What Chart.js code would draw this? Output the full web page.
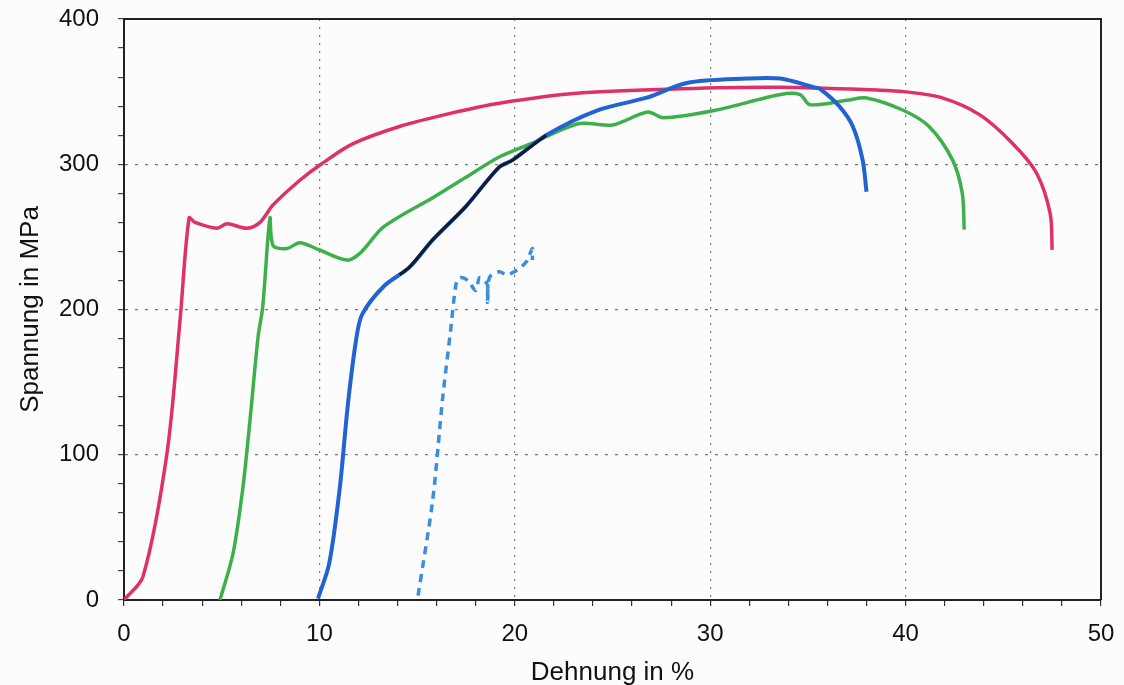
<!DOCTYPE html>
<html>
<head>
<meta charset="utf-8">
<script src="https://cdn.jsdelivr.net/npm/chart.js@4"></script>
<style>
  html, body { margin: 0; padding: 0; background: #fcfcfc; }
  #wrap { width: 1124px; height: 685px; }
</style>
</head>
<body>
<div id="wrap"><canvas id="chart" width="1124" height="685"></canvas></div>
<script>
// Spannung-Dehnung curves
const redStrain = [0, 0.97, 2.2, 2.87, 3.33, 3.63, 4.76, 5.27, 6.29, 6.96, 7.63, 9.0, 10.03, 11.7, 14.1, 16.7, 19.2, 23.3, 28.5, 33.6, 38.7, 39.9, 41.8, 43.8, 45.5, 46.7, 47.4, 47.5];
const redStress = [0, 16, 101, 193, 263, 260, 256, 259, 256, 260, 272, 289, 299.5, 314, 326, 335, 342, 349, 352, 353, 351, 350, 346, 334, 314, 294, 266, 241];

const greenStrain = [4.91, 5.58, 6.09, 6.45, 6.86, 7.1, 7.47, 7.63, 8.34, 9.0, 10.0, 11.4, 12.1, 13.3, 15.8, 17.5, 19.2, 20.8, 23.3, 25.0, 26.8, 27.6, 30.2, 33.6, 34.6, 35.1, 37.0, 38.0, 39.9, 41.2, 42.4, 42.9, 43.0];
const greenStress = [0, 32, 78, 124, 181, 202, 263, 244, 242, 246, 241, 234, 239, 257, 277, 291, 305, 314, 328, 327, 336, 332, 337, 348, 348, 341, 344, 345.6, 337, 326, 303, 280, 255];

const blueStrain = [9.93, 10.5, 11.05, 11.46, 11.9, 12.2, 13.3, 14.6, 15.8, 17.5, 19.2, 19.9, 21.6, 24.2, 26.8, 28.8, 31.9, 33.6, 35.3, 35.6, 36.6, 37.3, 37.8, 38.0];
const blueStress = [1, 25, 78, 135, 181, 197, 216, 229, 248, 271, 298, 303, 320, 337, 346, 356, 359, 359, 353, 352, 340, 326, 303, 281];

// black pen over part of the blue curve
const blackStrain = [14.1, 14.6, 15.8, 17.5, 19.2, 19.9, 21.6];
const blackStress = [224, 229, 248, 271, 298, 303, 320];

const dashStrain = [15.05, 15.8, 16.3, 16.7, 17.0, 17.2, 17.6, 18.0, 18.2, 18.6, 18.6, 18.7, 19.2, 19.6, 20.1, 20.6, 20.9, 20.9];
const dashStress = [3, 69, 138, 184, 218, 222, 220, 213, 222, 217, 205, 222, 226, 224, 227, 233, 242, 234];

const xTicks = [0, 10, 20, 30, 40, 50];
const yTicks = [0, 100, 200, 300, 400];

const pts = (xs, ys) => xs.map((x, i) => ({ x: x, y: ys[i] }));

const frame = {
  id: 'frame',
  afterDraw(chart) {
    const { ctx, chartArea: a } = chart;
    ctx.save();
    ctx.strokeStyle = '#222';
    ctx.lineWidth = 2;
    ctx.beginPath();
    ctx.moveTo(a.left, a.top);
    ctx.lineTo(a.right, a.top);
    ctx.lineTo(a.right, a.bottom);
    ctx.stroke();
    ctx.restore();
  }
};

const line = (data, color, width, extra) => Object.assign({
  data: data,
  borderColor: color,
  borderWidth: width,
  pointRadius: 0,
  tension: 0.3,
  fill: false
}, extra || {});

const tickFont = { family: 'Liberation Sans, Arial', size: 24 };
const titleFont = { family: 'Liberation Sans, Arial', size: 26 };

new Chart(document.getElementById('chart').getContext('2d'), {
  type: 'line',
  data: {
    datasets: [
      line(pts(redStrain, redStress), '#e0306c', 3.5, { order: 3 }),
      line(pts(greenStrain, greenStress), '#3db04b', 3.5, { order: 4 }),
      line(pts(blueStrain, blueStress), '#2163d3', 4, { order: 2 }),
      line(pts(blackStrain, blackStress), '#141a30', 3, { order: 1 }),
      line(pts(dashStrain, dashStress), '#3b8de0', 3.5, { borderDash: [8, 6], order: 5 })
    ]
  },
  plugins: [frame],
  options: {
    responsive: false,
    animation: false,
    layout: { padding: { top: 19, right: 23, left: 0, bottom: 0 } },
    plugins: { legend: { display: false }, tooltip: { enabled: false } },
    scales: {
      x: {
        type: 'linear',
        min: 0,
        max: 50,
        afterFit: s => { s.height = 85; s.paddingLeft = 0; s.paddingRight = 0; },
        ticks: {
          stepSize: 2,
          autoSkip: false,
          maxRotation: 0,
          padding: 14,
          color: '#111',
          font: tickFont,
          callback: v => xTicks.includes(v) ? String(v) : ''
        },
        grid: {
          color: c => c.tick && c.tick.value % 10 === 0 && c.tick.value > 0 && c.tick.value < 50 ? '#777' : 'rgba(0,0,0,0)',
          lineWidth: 1.2,
          tickColor: '#333',
          tickLength: 6
        },
        border: { color: '#222', width: 2, dash: [2, 6] },
        title: {
          display: true,
          text: 'Dehnung in %',
          color: '#111',
          font: titleFont,
          padding: { top: 0, bottom: -3 }
        }
      },
      y: {
        type: 'linear',
        min: 0,
        max: 400,
        afterFit: s => { s.width = 124; s.paddingTop = 0; s.paddingBottom = 0; },
        ticks: {
          stepSize: 20,
          autoSkip: false,
          padding: 19,
          color: '#111',
          font: tickFont,
          callback: v => yTicks.includes(v) ? String(v) : ''
        },
        grid: {
          color: c => c.tick && c.tick.value % 100 === 0 && c.tick.value > 0 && c.tick.value < 400 ? '#777' : 'rgba(0,0,0,0)',
          lineWidth: 1.2,
          tickColor: '#444',
          tickLength: 6
        },
        border: { color: '#222', width: 2, dash: [3, 7] },
        title: {
          display: true,
          text: 'Spannung in MPa',
          color: '#111',
          font: titleFont,
          padding: { bottom: 0, top: 15 }
        }
      }
    }
  }
});
</script>
</body>
</html>
